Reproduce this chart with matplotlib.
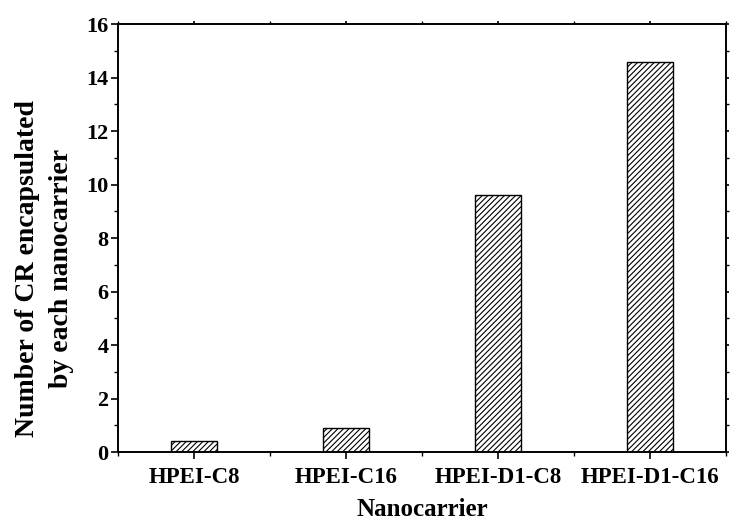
import matplotlib
matplotlib.use("Agg")
import matplotlib.pyplot as plt
from matplotlib.ticker import MultipleLocator, FixedLocator

categories = ["HPEI-C8", "HPEI-C16", "HPEI-D1-C8", "HPEI-D1-C16"]
cr_counts = [0.4, 0.9, 9.6, 14.6]

plt.rcParams["font.family"] = ["Liberation Serif", "DejaVu Serif"]
plt.rcParams["font.weight"] = "bold"
plt.rcParams["hatch.linewidth"] = 0.8

fig = plt.figure(figsize=(7.53, 5.24), dpi=100)
ax = fig.add_axes([0.1567, 0.1374, 0.964 - 0.1567, 0.954 - 0.1374])

positions = list(range(1, len(categories) + 1))
ax.bar(positions, cr_counts, width=0.3, facecolor="white",
       edgecolor="black", linewidth=1.0, hatch="//////")

ax.set_xlim(0.5, len(categories) + 0.5)
ax.set_ylim(0, 16)
ax.set_xticks(positions)
ax.set_xticklabels(categories, fontsize=16.5, fontweight="bold")
ax.xaxis.set_minor_locator(FixedLocator([p + 0.5 for p in range(0, len(categories) + 1)]))
ax.yaxis.set_major_locator(MultipleLocator(2))
ax.yaxis.set_minor_locator(MultipleLocator(1))
for lbl in ax.get_yticklabels():
    lbl.set_fontsize(16)
    lbl.set_fontweight("bold")

ax.tick_params(which="major", direction="out", length=5, width=1.2)
ax.tick_params(which="minor", direction="out", length=3, width=1.0)
ax.tick_params(axis="x", which="major", pad=6)
ax.tick_params(axis="y", which="major", pad=2)
# short marks on the opposite spines
ax.tick_params(which="both", top=True, right=True)
ax.tick_params(axis="x", which="both", labeltop=False)
for spine in ax.spines.values():
    spine.set_linewidth(1.4)

ax.set_xlabel("Nanocarrier", fontsize=18, fontweight="bold", labelpad=7)
ax.set_ylabel("Number of CR encapsulated\nby each nanocarrier", fontsize=20,
              fontweight="bold", linespacing=1.5)
ax.yaxis.set_label_coords(-0.072, 0.43)

# make the top/right marks very short
for t in ax.xaxis.get_major_ticks() + ax.xaxis.get_minor_ticks():
    t.tick2line.set_markersize(2)
for t in ax.yaxis.get_major_ticks() + ax.yaxis.get_minor_ticks():
    t.tick2line.set_markersize(2)

fig.savefig("out.png", dpi=100)
